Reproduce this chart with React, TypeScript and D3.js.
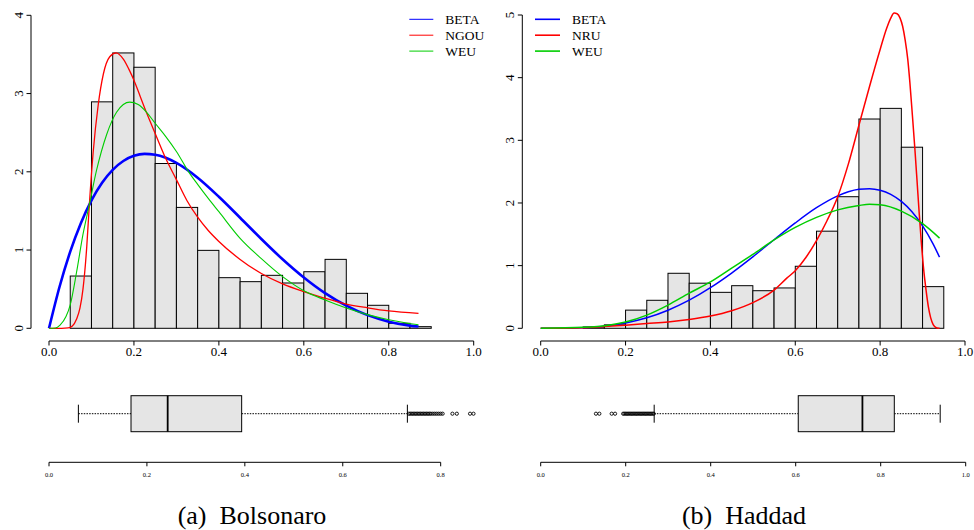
import React from "react";
import * as d3 from "d3";

// ---------- DATA ----------
const binWidth = 0.05;

// (a) Bolsonaro histogram (density), bin left edges
const bolsBinStart = [0.05, 0.1, 0.15, 0.2, 0.25, 0.3, 0.35, 0.4, 0.45, 0.5, 0.55, 0.6, 0.65, 0.7, 0.75, 0.8, 0.85];
const bolsDensity = [0.668, 2.894, 3.519, 3.336, 2.106, 1.545, 0.996, 0.647, 0.596, 0.677, 0.579, 0.723, 0.881, 0.447, 0.294, 0.064, 0.021];

// (b) Haddad histogram (density)
const haddBinStart = [0.1, 0.15, 0.2, 0.25, 0.3, 0.35, 0.4, 0.45, 0.5, 0.55, 0.6, 0.65, 0.7, 0.75, 0.8, 0.85, 0.9];
const haddDensity = [0.022, 0.055, 0.29, 0.447, 0.878, 0.72, 0.574, 0.68, 0.6, 0.644, 0.99, 1.55, 2.1, 3.34, 3.51, 2.89, 0.665];

// fitted density curves, Bolsonaro
const bolsBeta: [number, number][] = [
  [0, 0], [0.025, 0.534], [0.05, 0.98], [0.075, 1.344], [0.1, 1.635], [0.125, 1.86], [0.15, 2.025],
  [0.175, 2.138], [0.2, 2.204], [0.225, 2.229], [0.25, 2.219], [0.275, 2.179], [0.3, 2.113],
  [0.35, 1.924], [0.4, 1.681], [0.45, 1.413], [0.5, 1.141], [0.55, 0.882], [0.6, 0.649],
  [0.65, 0.449], [0.7, 0.289], [0.75, 0.168], [0.8, 0.085], [0.85, 0.034], [0.87, 0.022],
];
const bolsNgou: [number, number][] = [
  [0, 0], [0.03, 0], [0.045, 0.005], [0.055, 0.03], [0.065, 0.12], [0.073, 0.26], [0.08, 0.5],
  [0.089, 1.05], [0.095, 1.58], [0.104, 2.25], [0.116, 2.86], [0.128, 3.25], [0.143, 3.47],
  [0.158, 3.52], [0.175, 3.44], [0.19, 3.29], [0.2, 3.17], [0.215, 2.96], [0.23, 2.75],
  [0.25, 2.49], [0.275, 2.17], [0.3, 1.9], [0.325, 1.63], [0.35, 1.42], [0.375, 1.25],
  [0.4, 1.11], [0.45, 0.88], [0.5, 0.7], [0.55, 0.567], [0.6, 0.468], [0.65, 0.383],
  [0.7, 0.31], [0.75, 0.262], [0.8, 0.222], [0.87, 0.19],
];
const bolsWeu: [number, number][] = [
  [0, 0], [0.015, 0.003], [0.026, 0.04], [0.04, 0.15], [0.05, 0.3], [0.065, 0.72], [0.08, 1.2],
  [0.095, 1.58], [0.112, 2.02], [0.136, 2.48], [0.159, 2.76], [0.175, 2.86], [0.19, 2.89],
  [0.21, 2.86], [0.23, 2.76], [0.25, 2.62], [0.275, 2.45], [0.3, 2.26], [0.33, 1.99],
  [0.35, 1.84], [0.375, 1.66], [0.4, 1.49], [0.45, 1.15], [0.5, 0.89], [0.55, 0.66],
  [0.6, 0.48], [0.65, 0.362], [0.7, 0.26], [0.75, 0.175], [0.8, 0.11], [0.87, 0.045],
];

// fitted density curves, Haddad
const haddBeta: [number, number][] = [
  [0, 0], [0.05, 0.0005], [0.1, 0.0094], [0.15, 0.034], [0.2, 0.085], [0.25, 0.168], [0.3, 0.289],
  [0.35, 0.449], [0.4, 0.649], [0.45, 0.882], [0.5, 1.141], [0.55, 1.413], [0.6, 1.681],
  [0.65, 1.924], [0.7, 2.113], [0.725, 2.179], [0.75, 2.219], [0.775, 2.229], [0.8, 2.204],
  [0.825, 2.138], [0.85, 2.025], [0.875, 1.86], [0.9, 1.635], [0.925, 1.344], [0.94, 1.135],
];
const haddNru: [number, number][] = [
  [0, 0], [0.1, 0.01], [0.15, 0.03], [0.2, 0.05], [0.25, 0.075], [0.3, 0.1], [0.35, 0.14],
  [0.4, 0.195], [0.45, 0.28], [0.5, 0.41], [0.55, 0.61], [0.58, 0.8], [0.6, 0.92], [0.625, 1.13],
  [0.65, 1.4], [0.675, 1.72], [0.7, 2.1], [0.725, 2.62], [0.75, 3.24], [0.775, 3.86], [0.8, 4.45],
  [0.815, 4.78], [0.825, 4.95], [0.833, 5.03], [0.84, 5.02], [0.847, 4.95], [0.853, 4.82],
  [0.859, 4.6], [0.865, 4.3], [0.87, 3.93], [0.876, 3.4], [0.882, 2.85], [0.887, 2.35],
  [0.892, 1.84], [0.897, 1.38], [0.902, 0.98], [0.908, 0.62], [0.9135, 0.35], [0.919, 0.17],
  [0.925, 0.06], [0.931, 0.015], [0.937, 0], [0.94, 0],
];
const haddWeu: [number, number][] = [
  [0, 0], [0.1, 0.016], [0.156, 0.045], [0.2, 0.1], [0.25, 0.21], [0.3, 0.37], [0.35, 0.56],
  [0.4, 0.74], [0.45, 0.96], [0.5, 1.18], [0.55, 1.41], [0.6, 1.61], [0.65, 1.77], [0.7, 1.89],
  [0.75, 1.96], [0.775, 1.98], [0.8, 1.97], [0.85, 1.87], [0.9, 1.67], [0.94, 1.44],
];

// boxplot statistics: [lower whisker, Q1, median, Q3, upper whisker]
const bolsBoxStats = [0.06, 0.1675, 0.2424, 0.3935, 0.732];
const bolsOutliers = [0.735, 0.738, 0.741, 0.744, 0.747, 0.75, 0.753, 0.756, 0.759, 0.762, 0.765, 0.768, 0.771,
  0.774, 0.777, 0.78, 0.784, 0.788, 0.792, 0.796, 0.8, 0.804, 0.824, 0.833, 0.86, 0.867];
const haddBoxStats = [0.267, 0.606, 0.757, 0.832, 0.94];
const haddOutliers = [0.13, 0.138, 0.167, 0.175, 0.194, 0.197, 0.2, 0.203, 0.206, 0.209, 0.212, 0.215, 0.218,
  0.221, 0.224, 0.227, 0.23, 0.233, 0.236, 0.239, 0.242, 0.245, 0.248, 0.251, 0.254, 0.257, 0.26, 0.263, 0.266];

const histTicksX = [0, 0.2, 0.4, 0.6, 0.8, 1.0];
const bolsTicksY = [0, 1, 2, 3, 4];
const haddTicksY = [0, 1, 2, 3, 4, 5];
const bolsBoxTicks = [0, 0.2, 0.4, 0.6, 0.8];
const haddBoxTicks = [0, 0.2, 0.4, 0.6, 0.8, 1.0];

const bolsLegend = ["BETA", "NGOU", "WEU"];
const haddLegend = ["BETA", "NRU", "WEU"];
const curveColors = ["#0000ff", "#ff0000", "#00cd00"];

const captions = ["(a)\u2002Bolsonaro", "(b)\u2002Haddad"];

// ---------- COMPONENTS ----------
const FONT = "'Liberation Serif', 'Times New Roman', serif";

type PanelProps = {
  x0: number; x1: number; yAxisX: number; yMax: number; yTop: number;
  bins: number[]; dens: number[]; curves: [number, number][][]; widths: number[];
  ticksY: number[]; legend: string[]; legendX: number; legendW: number;
  boxX1: number; boxTicks: number[]; box: number[]; outliers: number[];
  caption: string; captionX: number;
};

function Panel(p: PanelProps) {
  const x = d3.scaleLinear().domain([0, 1]).range([p.x0, p.x1]);
  const y = d3.scaleLinear().domain([0, p.yMax]).range([328.3, p.yTop]);
  const bx = d3.scaleLinear().domain([0, 1]).range([p.x0, p.boxX1]);
  const line = d3.line<[number, number]>().x((d) => x(d[0])).y((d) => y(d[1])).curve(d3.curveMonotoneX);
  const axisY = 341;
  const boxCy = 413.7;
  const boxH = 18;
  const bAxisY = 462.3;
  const [wLo, q1, med, q3, wHi] = p.box;
  return (
    <g>
      {p.bins.map((b, i) => (
        <rect key={"b" + i} x={x(b)} y={y(p.dens[i])} width={x(b + binWidth) - x(b)}
          height={y(0) - y(p.dens[i])} fill="#e5e5e5" stroke="#000" strokeWidth={1} />
      ))}
      {p.curves.map((c, i) => (
        <path key={"c" + i} d={line(c) || ""} fill="none" stroke={curveColors[i]} strokeWidth={p.widths[i]} />
      ))}
      {/* y axis */}
      <line x1={p.yAxisX} x2={p.yAxisX} y1={y(0)} y2={y(p.yMax)} stroke="#000" strokeWidth={1} />
      {p.ticksY.map((t) => (
        <g key={"ty" + t}>
          <line x1={p.yAxisX - 4.5} x2={p.yAxisX} y1={y(t)} y2={y(t)} stroke="#000" strokeWidth={1} />
          <text transform={`translate(${p.yAxisX - 8},${y(t)}) rotate(-90)`} textAnchor="middle"
            fontFamily={FONT} fontSize={13} fill="#000">{t}</text>
        </g>
      ))}
      {/* x axis */}
      <line x1={x(0)} x2={x(1)} y1={axisY} y2={axisY} stroke="#000" strokeWidth={1} />
      {histTicksX.map((t) => (
        <g key={"tx" + t}>
          <line x1={x(t)} x2={x(t)} y1={axisY} y2={axisY + 4.5} stroke="#000" strokeWidth={1} />
          <text x={x(t)} y={356} textAnchor="middle" fontFamily={FONT} fontSize={13} fill="#000">{t.toFixed(1)}</text>
        </g>
      ))}
      {/* legend */}
      {p.legend.map((l, i) => (
        <g key={"lg" + i}>
          <line x1={p.legendX} x2={p.legendX + p.legendW} y1={19.3 + i * 15.9} y2={19.3 + i * 15.9}
            stroke={curveColors[i]} strokeWidth={p.widths[0] > 2 ? 1 : 1.6} />
          <text x={p.legendX + p.legendW + 12} y={24 + i * 16} fontFamily={FONT} fontSize={13.5} fill="#000">{l}</text>
        </g>
      ))}
      {/* boxplot */}
      <line x1={bx(wLo)} x2={bx(q1)} y1={boxCy} y2={boxCy} stroke="#000" strokeWidth={1} strokeDasharray="1.5,1.2" />
      <line x1={bx(q3)} x2={bx(wHi)} y1={boxCy} y2={boxCy} stroke="#000" strokeWidth={1} strokeDasharray="1.5,1.2" />
      <line x1={bx(wLo)} x2={bx(wLo)} y1={boxCy - 9} y2={boxCy + 9} stroke="#000" strokeWidth={1} />
      <line x1={bx(wHi)} x2={bx(wHi)} y1={boxCy - 9} y2={boxCy + 9} stroke="#000" strokeWidth={1} />
      <rect x={bx(q1)} y={boxCy - boxH} width={bx(q3) - bx(q1)} height={boxH * 2} fill="#e5e5e5" stroke="#000" strokeWidth={1} />
      <line x1={bx(med)} x2={bx(med)} y1={boxCy - boxH} y2={boxCy + boxH} stroke="#000" strokeWidth={1.8} />
      {p.outliers.map((o, i) => (
        <circle key={"o" + i} cx={bx(o)} cy={boxCy} r={1.6} fill="none" stroke="#000" strokeWidth={0.9} />
      ))}
      <line x1={bx(p.boxTicks[0])} x2={bx(p.boxTicks[p.boxTicks.length - 1])} y1={bAxisY} y2={bAxisY} stroke="#000" strokeWidth={1} />
      {p.boxTicks.map((t) => (
        <g key={"bt" + t}>
          <line x1={bx(t)} x2={bx(t)} y1={bAxisY} y2={bAxisY + 4} stroke="#000" strokeWidth={1} />
          <text x={bx(t)} y={476.5} textAnchor="middle" fontFamily={FONT} fontSize={6.5} fill="#000">{t.toFixed(1)}</text>
        </g>
      ))}
      <text x={p.captionX} y={524} textAnchor="middle" fontFamily={FONT} fontSize={26} fill="#000">{p.caption}</text>
    </g>
  );
}

export default function App() {
  return (
    <svg width={974} height={530} viewBox="0 0 974 530"
      style={{ position: "absolute", left: 0, top: 0, background: "#fff" }}>
      <rect x={0} y={0} width={974} height={530} fill="#fff" />
      <Panel x0={49} x1={473.7} yAxisX={31} yMax={4} yTop={15.3}
        bins={bolsBinStart} dens={bolsDensity} curves={[bolsBeta, bolsNgou, bolsWeu]} widths={[2.6, 1.3, 1.1]}
        ticksY={bolsTicksY} legend={bolsLegend} legendX={409.3} legendW={24}
        boxX1={538.6} boxTicks={bolsBoxTicks} box={bolsBoxStats} outliers={bolsOutliers}
        caption={captions[0]} captionX={252} />
      <Panel x0={540.7} x1={965} yAxisX={522.3} yMax={5} yTop={15}
        bins={haddBinStart} dens={haddDensity} curves={[haddBeta, haddNru, haddWeu]} widths={[1.5, 1.5, 1.5]}
        ticksY={haddTicksY} legend={haddLegend} legendX={535} legendW={25}
        boxX1={965.7} boxTicks={haddBoxTicks} box={haddBoxStats} outliers={haddOutliers}
        caption={captions[1]} captionX={744} />
    </svg>
  );
}
